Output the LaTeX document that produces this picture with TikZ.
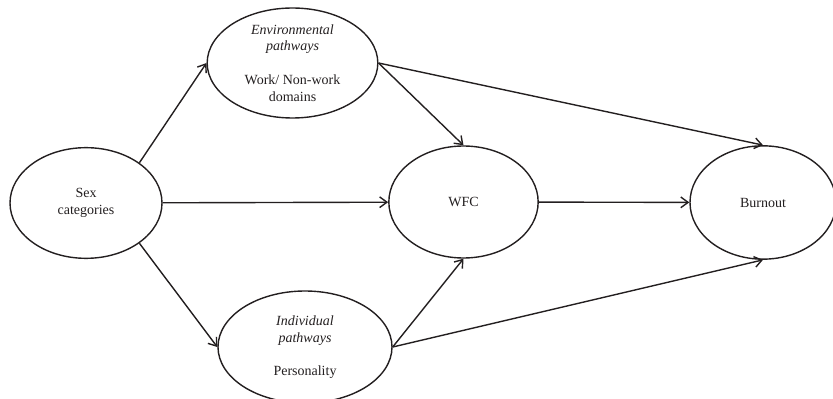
\documentclass[tikz,border=0pt]{standalone}
\usepackage{fontspec}
\setmainfont{Liberation Serif}
\usetikzlibrary{arrows.meta,shapes.geometric}
\definecolor{pathink}{HTML}{231F20}

\tikzset{
  construct/.style={draw=pathink,ellipse,line width=1.05pt,inner sep=0pt,align=center,font=\fontsize{10.5}{12.5}\selectfont\color{pathink}},
  link/.style={draw=pathink,line width=1.05pt,-{Straight Barb[length=5.5pt,width=8pt,line width=1.05pt]}}
}

\begin{document}
\begin{tikzpicture}[x=0.75pt,y=-0.75pt]
  \useasboundingbox (0,0) rectangle (833,399);
  % constructs
  \node[construct,minimum width=114pt,minimum height=83pt] (sex) at (86,203) {Sex\\categories};
  \node[construct,minimum width=128pt,minimum height=82.5pt] (env) at (292.5,63) {\textit{Environmental}\\\textit{pathways}\\[13pt]Work/ Non-work\\domains};
  \node[construct,minimum width=112pt,minimum height=84pt] (wfc) at (463.5,202) {WFC};
  \node[construct,minimum width=130.5pt,minimum height=84pt] (ind) at (305,347) {\textit{Individual}\\\textit{pathways}\\[12pt]Personality};
  \node[construct,minimum width=109.5pt,minimum height=85pt] (burn) at (763,202.5) {Burnout};
  % paths
  \draw[link] (sex.37) -- (env.west);
  \draw[link] (sex) -- (wfc);
  \draw[link] (sex.-37) -- (ind.west);
  \draw[link] (env.east) -- (wfc.north);
  \draw[link] (env.east) -- (burn.north);
  \draw[link] (ind.east) -- (wfc.south);
  \draw[link] (ind.east) -- (burn.south);
  \draw[link] (wfc) -- (burn);
\end{tikzpicture}
\end{document}
